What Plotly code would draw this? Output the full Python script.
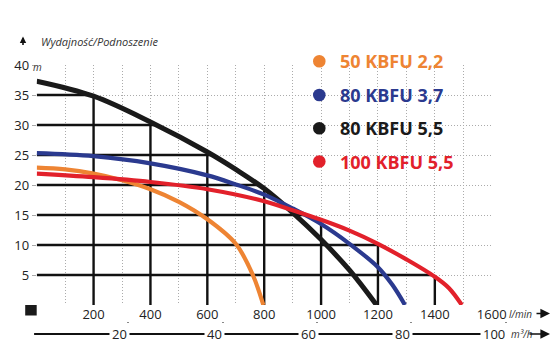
import numpy as np
import plotly.graph_objects as go

# ---------------- data ----------------
series_names = ["50 KBFU 2,2", "80 KBFU 3,7", "80 KBFU 5,5", "100 KBFU 5,5"]

q_50_22 = [0, 100, 200, 300, 400, 500, 600, 700, 760, 797]
h_50_22 = [22.9, 22.6, 21.9, 20.8, 19.3, 17.2, 14.3, 10.2, 5.0, 0]

q_80_37 = [0, 200, 400, 600, 700, 800, 900, 1000, 1100, 1200, 1250, 1295]
h_80_37 = [25.3, 24.8, 23.6, 21.6, 20.1, 18.4, 16.1, 13.5, 10.2, 6.3, 3.4, 0]

q_80_55 = [0, 200, 400, 600, 700, 800, 900, 1000, 1100, 1195]
h_80_55 = [37.3, 34.8, 30.5, 25.5, 22.6, 19.4, 15.4, 10.9, 5.8, 0]

q_100_55 = [0, 200, 400, 600, 800, 900, 1000, 1100, 1200, 1300, 1400, 1450, 1495]
h_100_55 = [21.9, 21.3, 20.5, 19.3, 17.3, 15.8, 14.2, 12.4, 10.2, 7.6, 4.7, 2.8, 0]

x_ticks = [200, 400, 600, 800, 1000, 1200, 1400, 1600]     # l/min labels
y_ticks = [5, 10, 15, 20, 25, 30, 35, 40]                   # m labels
flow_m3h_ticks = [20, 40, 60, 80, 100]                      # m3/h labels
major_x = [200, 400, 600, 800, 1000, 1200, 1400]
major_y = [5, 10, 15, 20, 25, 30, 35]

colors = ["#EE8433", "#2B3A8F", "#1A1A1A", "#E2212B"]

# ---------------- layout helpers (pixel -> paper) ----------------
W, H = 560, 352
ML, MR, MT, MB = 10, 5, 65, 12
PW, PH = W - ML - MR, H - MT - MB


def pxx(px):
    return (px - ML) / PW


def pxy(py):
    return (H - MB - py) / PH


FONT = "Open Sans"

fig = go.Figure()

# solid grid under the envelope of all curves
curves = [(q_50_22, h_50_22), (q_80_37, h_80_37), (q_80_55, h_80_55), (q_100_55, h_100_55)]
qs = np.linspace(0, 1600, 3201)
env = np.max([np.interp(qs, q, h, right=0) for q, h in curves], axis=0)
gx, gy = [], []
for v in major_x:
    gx += [v, v, None]
    gy += [0, float(np.interp(v, qs, env)), None]
for v in major_y:
    gx += [0, float(qs[env >= v].max()), None]
    gy += [v, v, None]
fig.add_trace(go.Scatter(x=gx, y=gy, mode="lines", line=dict(color="#111", width=2.4),
                         hoverinfo="skip", showlegend=False))

order = [2, 1, 0, 3]
widths = [4.2, 4.2, 5, 4.2]
for i in order:
    q, h = curves[i]
    fig.add_trace(go.Scatter(x=q, y=h, mode="lines", name=series_names[i],
                             line=dict(color=colors[i], width=widths[i], shape="spline", smoothing=1.0,
                                       simplify=False),
                             showlegend=False))

# dummy trace to register secondary (m3/h) axis
fig.add_trace(go.Scatter(x=[], y=[], xaxis="x2", yaxis="y2", showlegend=False))

grid = dict(showgrid=True, gridcolor="#ababab", griddash="1px,2px", gridwidth=1, zeroline=False,
            showline=False, automargin=False)

fig.update_layout(
    width=W, height=H,
    margin=dict(l=ML, r=MR, t=MT, b=MB, autoexpand=False),
    paper_bgcolor="white", plot_bgcolor="white",
    font=dict(family=FONT, size=13, color="#222"),
    xaxis=dict(domain=[pxx(36.7), pxx(491.7)], range=[0, 1600],
               tickmode="array", tickvals=list(range(0, 1601, 100)),
               ticktext=[str(v) if v in x_ticks else "" for v in range(0, 1601, 100)],
               ticks="", tickfont=dict(size=13, color="#222"), fixedrange=True, **grid),
    yaxis=dict(domain=[pxy(305), 1], range=[0, 40],
               tickmode="array", tickvals=list(range(0, 41, 5)),
               ticktext=[str(v) if v in y_ticks else "" for v in range(0, 41, 5)],
               ticks="outside", ticklen=4, tickcolor="#ababab", tickwidth=1,
               tickfont=dict(size=13, color="#222"), fixedrange=True, **grid),
    xaxis2=dict(domain=[pxx(34.1), pxx(553)], range=[0, 110], anchor="y2",
                tickmode="array", tickvals=flow_m3h_ticks, ticks="inside", ticklen=5,
                tickwidth=2, tickcolor="#111", showticklabels=False, showgrid=False,
                zeroline=False, showline=False, fixedrange=True, automargin=False),
    yaxis2=dict(domain=[pxy(326.7), pxy(320)], visible=False, anchor="x2", fixedrange=True,
                automargin=False),
)

shapes = []
annotations = []

# origin black square
shapes.append(dict(type="rect", xref="paper", yref="paper", xsizemode="pixel", ysizemode="pixel",
                   xanchor=pxx(36.7), yanchor=pxy(305), x0=-11.5, x1=0, y0=-10.5, y1=0,
                   fillcolor="#1a1a1a", line=dict(width=0)))

# m3/h axis line
shapes.append(dict(type="line", xref="x2", yref="paper", x0=0, x1=100, y0=pxy(334), y1=pxy(334),
                   line=dict(color="#111", width=2)))
for v in flow_m3h_ticks:
    annotations.append(dict(xref="x2", yref="paper", x=v, y=pxy(334), text=str(v), showarrow=False,
                            xanchor="right", yanchor="middle", xshift=2, bgcolor="white", borderpad=2,
                            font=dict(size=13, color="#222")))
annotations.append(dict(xref="x2", yref="paper", x=100, y=pxy(334), text="<i>m³/h</i>", showarrow=False,
                        xanchor="left", yanchor="middle", xshift=3, bgcolor="white",
                        font=dict(size=10, color="#333")))

# l/min unit
annotations.append(dict(xref="paper", yref="paper", x=pxx(507), y=pxy(313.5), text="<i>l/min</i>",
                        showarrow=False, xanchor="left", yanchor="middle", font=dict(size=10, color="#333")))

# arrows
for yy, tail in [(313.5, -15), (334, -22)]:
    annotations.append(dict(xref="paper", yref="paper", x=pxx(550), y=pxy(yy), text="", showarrow=True,
                            ax=tail, ay=0, arrowhead=2, arrowsize=1.2, arrowwidth=1.6, arrowcolor="#111"))
annotations.append(dict(xref="paper", yref="paper", x=pxx(23), y=pxy(36.5), text="", showarrow=True,
                        ax=0, ay=10, arrowhead=2, arrowsize=0.8, arrowwidth=1.6, arrowcolor="#111"))

# header text
annotations.append(dict(xref="paper", yref="paper", x=pxx(39), y=pxy(41), text="<i>Wydajność/Podnoszenie</i>",
                        showarrow=False, xanchor="left", yanchor="middle", font=dict(size=11, color="#333")))
annotations.append(dict(xref="paper", yref="paper", x=pxx(31), y=pxy(67), text="<i>m</i>",
                        showarrow=False, xanchor="left", yanchor="middle", font=dict(size=10, color="#333")))

# legend
legend_rows = [61.2, 95, 128.2, 161.5]
for i, ry in enumerate(legend_rows):
    shapes.append(dict(type="circle", xref="paper", yref="paper", xsizemode="pixel", ysizemode="pixel",
                       xanchor=pxx(319.3), yanchor=pxy(ry), x0=-6.3, x1=6.3, y0=-6.3, y1=6.3,
                       fillcolor=colors[i], line=dict(width=0)))
    annotations.append(dict(xref="paper", yref="paper", x=pxx(338), y=pxy(ry), text=f"<b>{series_names[i]}</b>",
                            showarrow=False, xanchor="left", yanchor="middle",
                            font=dict(family=FONT, size=18, color=colors[i])))

fig.update_layout(shapes=shapes, annotations=annotations)

fig.write_html("out.html")
